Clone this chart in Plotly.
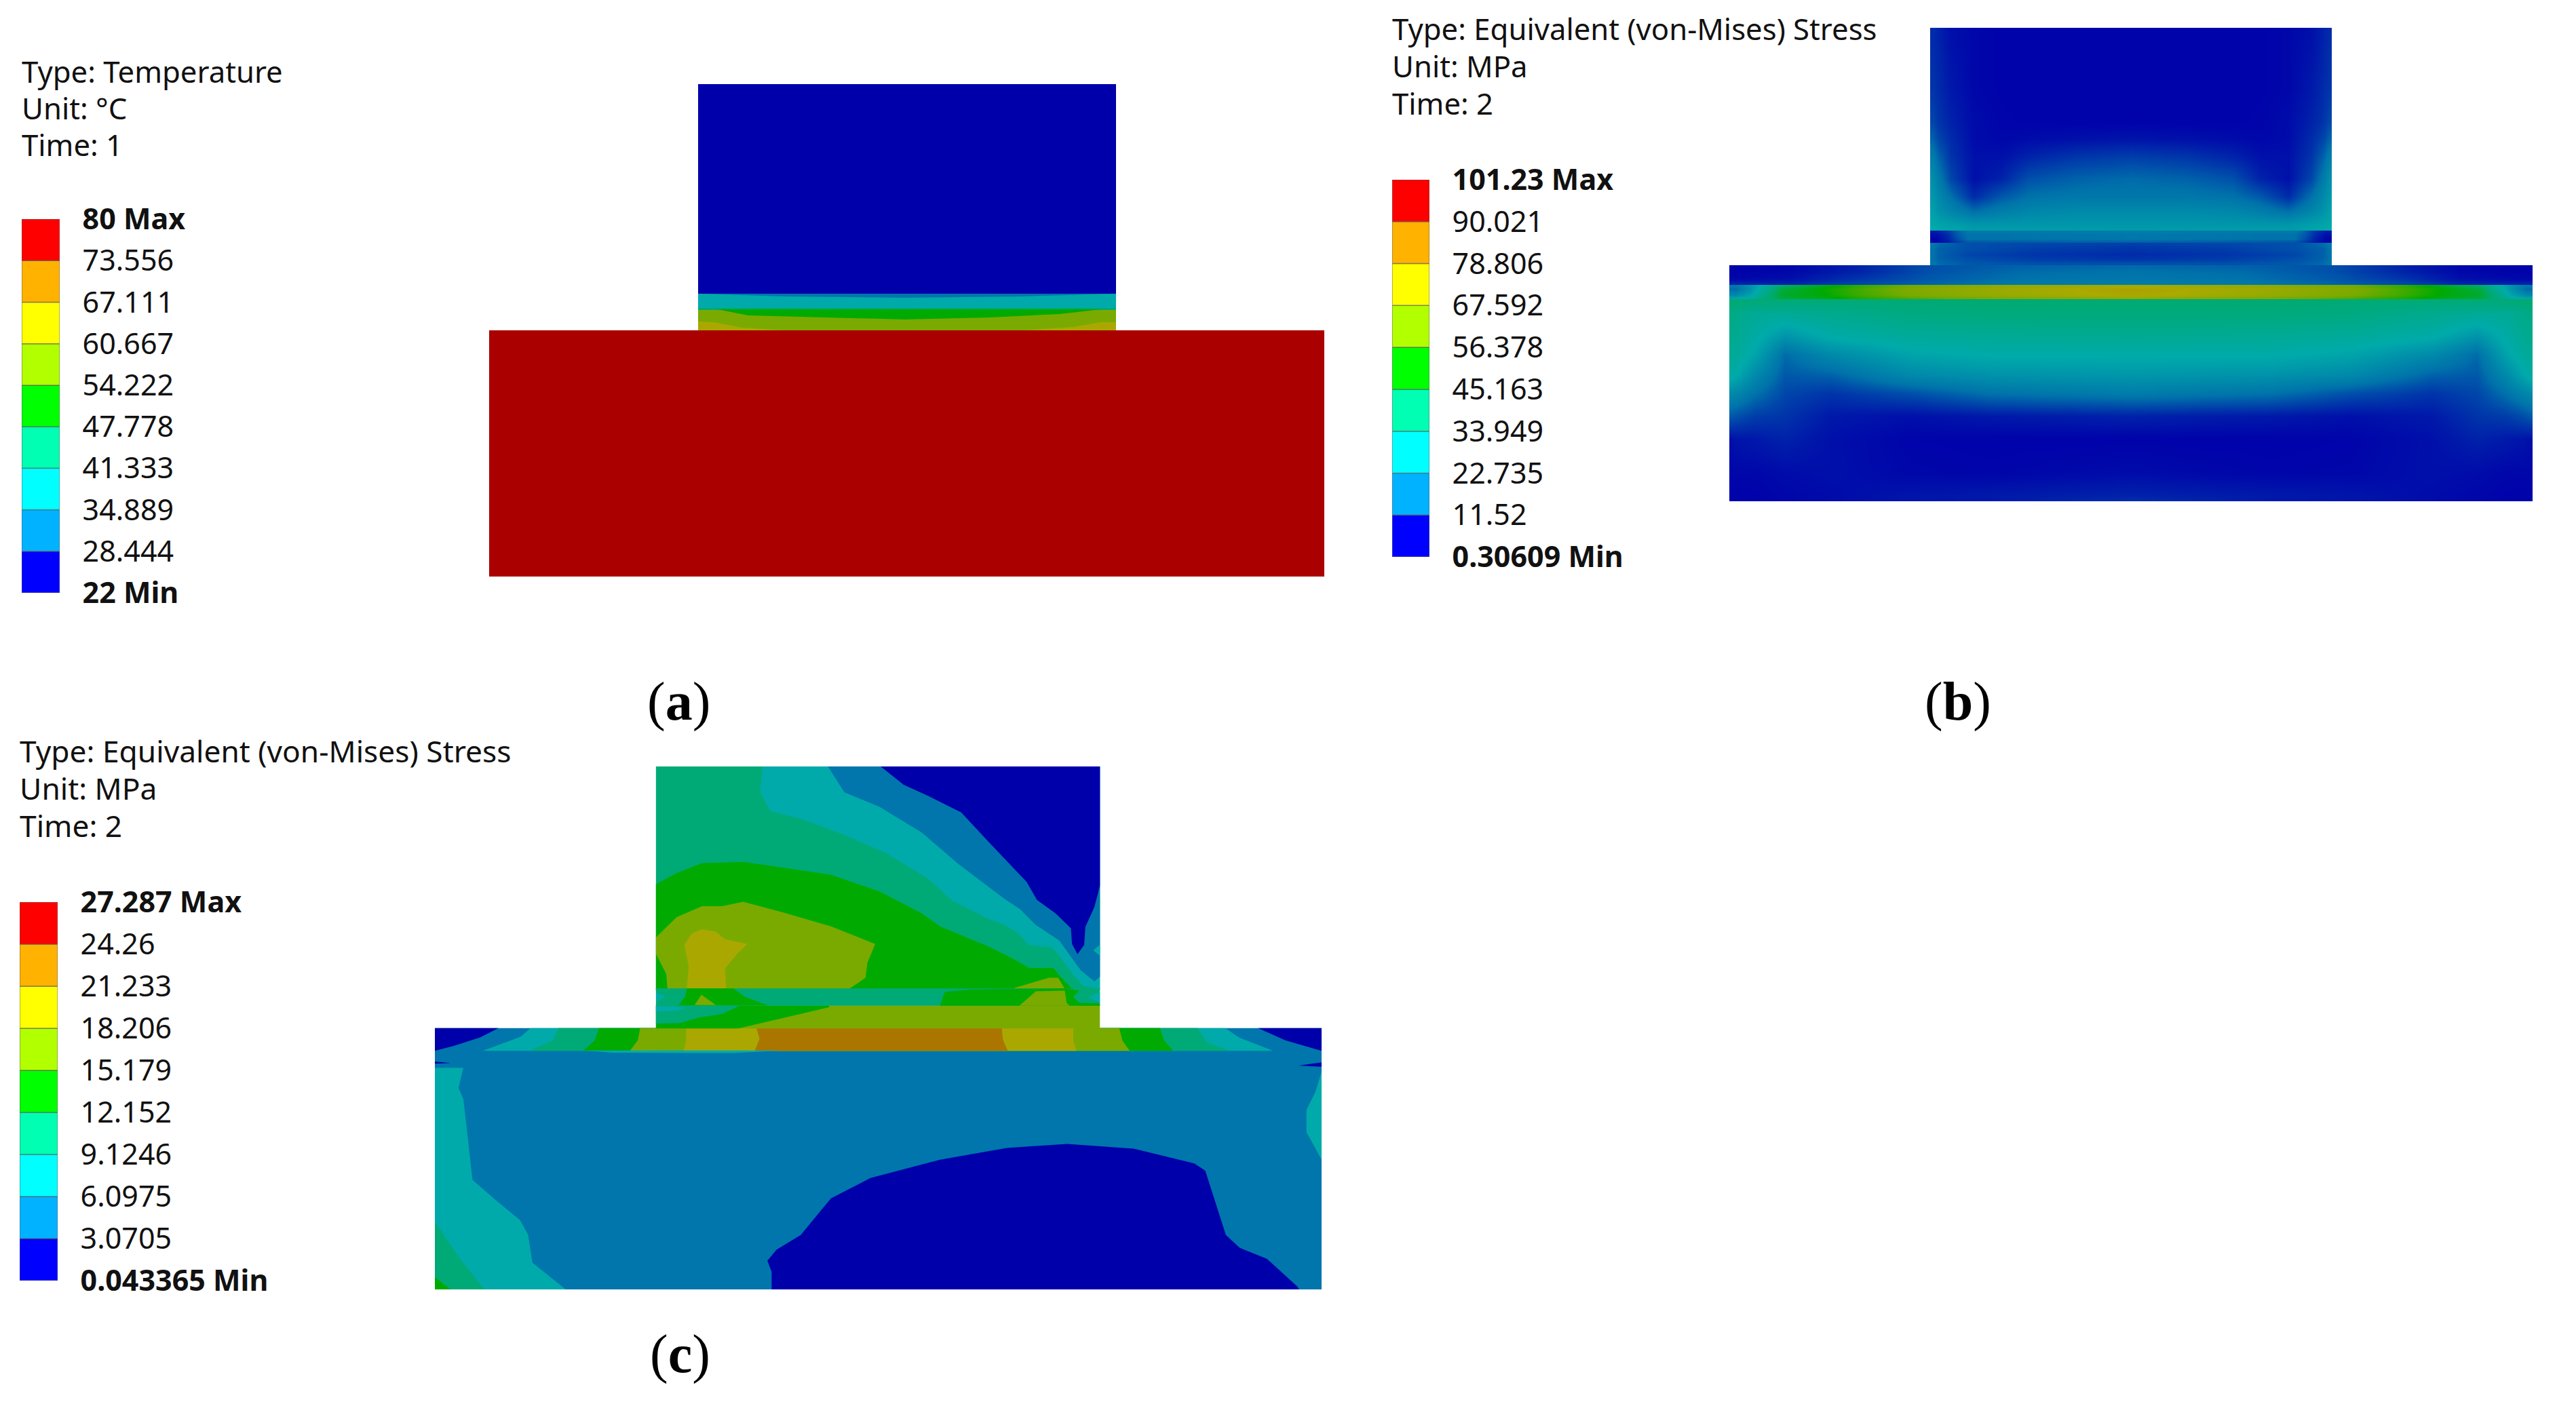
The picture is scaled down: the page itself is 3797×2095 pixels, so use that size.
import plotly.graph_objects as go

W = 3797
H = 2095

# contour colours of the models (dimmed legend colours)
C0 = "#0000aa"
C1 = "#0076ac"
C2 = "#00aaaa"
C3 = "#00aa76"
C4 = "#00aa00"
C5 = "#7aaa00"
C6 = "#aaa800"
C7 = "#aa7600"
C8 = "#aa0000"

LEGEND_COLOURS = ["#0000ff", "#00b2ff", "#00ffff", "#00ffb2", "#00ff00",
                  "#b2ff00", "#ffff00", "#ffb200", "#ff0000"]

# legend labels, bottom to top
LABELS_A = ["22 Min", "28.444", "34.889", "41.333", "47.778", "54.222",
            "60.667", "67.111", "73.556", "80 Max"]
LABELS_B = ["0.30609 Min", "11.52", "22.735", "33.949", "45.163", "56.378",
            "67.592", "78.806", "90.021", "101.23 Max"]
LABELS_C = ["0.043365 Min", "3.0705", "6.0975", "9.1246", "12.152", "15.179",
            "18.206", "21.233", "24.26", "27.287 Max"]

HEADER_A = ["Type: Temperature", "Unit: °C", "Time: 1"]
HEADER_B = ["Type: Equivalent (von-Mises) Stress", "Unit: MPa", "Time: 2"]
HEADER_C = ["Type: Equivalent (von-Mises) Stress", "Unit: MPa", "Time: 2"]

# ---- panel a, contour bands (model units)
A_BASE = [(721, 487), (1952, 487), (1952, 850), (721, 850)]
A_TOP = [(1029, 124), (1645, 124), (1645, 433), (1029, 433)]
A_INTER = [(1029, 433), (1645, 433), (1645, 487), (1029, 487)]
A_TEAL = [(1029, 433), (1645, 433), (1645, 457), (1029, 457)]
A_LENS = [(1029, 433), (1645, 433), (1511, 437), (1333, 439), (1154, 437)]
A_GREENTEAL = [(1029, 454), (1645, 454), (1645, 457), (1029, 457)]
A_GREEN = [(1057, 456), (1623, 456), (1562, 463), (1460, 468), (1333, 471), (1205, 468), (1103, 465)]
A_CORNER_L = [(1029, 474), (1052, 475), (1093, 483), (1154, 487), (1029, 487)]
A_CORNER_R = [(1645, 475), (1623, 475), (1583, 482), (1511, 487), (1645, 487)]

# ---- panel b, stress field in MPa (model units)
B_TOP_X = [2849, 2857, 2875, 2909, 2950, 2990, 3060, 3141, 3222, 3292, 3332, 3373, 3407, 3425, 3433]
B_TOP_Y = [44, 50, 130, 180, 205, 230, 263, 290, 310, 331, 337]
B_TOP_Z = [
    [5, 4, 2, 1, .6, .5, .5, .5, .5, .5, .6, 1, 2, 4, 5],
    [5, 4, 2, 1, .6, .5, .5, .5, .5, .5, .6, 1, 2, 4, 5],
    [6, 5, 3, 1, .6, .5, .5, .5, .5, .5, .6, 1, 3, 5, 6],
    [8, 6, 4, 1.5, .8, .6, .5, .5, .5, .6, .8, 1.5, 4, 6, 8],
    [11, 8, 5, 1.5, 1, 1.5, 2, 2.5, 2, 1.5, 1, 1.5, 5, 8, 11],
    [15, 11, 6, 2, 2, 4, 6, 7, 6, 4, 2, 2, 6, 11, 15],
    [19, 15, 8, 2, 4, 9, 11, 12, 11, 9, 4, 2, 8, 15, 19],
    [21, 18, 13, 5, 10, 13, 14, 14, 14, 13, 10, 5, 13, 18, 21],
    [23, 20, 17, 12, 15, 17, 18, 18, 18, 17, 15, 12, 17, 20, 23],
    [25, 24, 23, 21, 21, 21, 21, 21, 21, 21, 21, 21, 23, 24, 25],
    [26, 25, 24, 22, 22, 22, 22, 22, 22, 22, 22, 22, 24, 25, 26],
]

B_LAYER1_X = [2848, 2854, 2870, 2885, 2900, 3141, 3382, 3397, 3412, 3428, 3434]
B_LAYER1_Y = [342, 346, 352, 356]
B_LAYER1_Z = [
    [3, 3, 6, 11, 14, 15, 14, 11, 6, 3, 3],
    [2, 2, 5, 10, 13, 14, 13, 10, 5, 2, 2],
    [1, 1, 4, 9, 13, 14, 13, 9, 4, 1, 1],
    [1, 1, 3, 7, 10, 11, 10, 7, 3, 1, 1],
]

B_LAYER2_X = [2849, 2857, 2900, 3000, 3141, 3282, 3382, 3425, 3433]
B_LAYER2_Y = [361, 367, 375, 382, 388]
B_LAYER2_Z = [
    [14, 12, 9, 8, 7, 8, 9, 12, 14],
    [13, 11, 9, 7, 6, 7, 9, 11, 13],
    [13, 11, 8, 6, 5, 6, 8, 11, 13],
    [13, 11, 9, 7, 6, 7, 9, 11, 13],
    [14, 12, 10, 9, 9, 9, 10, 12, 14],
]

B_DARK_X = [2552, 2558, 2640, 2738, 2844, 2975, 3141, 3307, 3438, 3544, 3626, 3724, 3730]
B_DARK_Y = [394, 400, 411, 417]
B_DARK_Z = [
    [.5, .5, 1, 4, 9, 11, 12, 11, 9, 4, 1, .5, .5],
    [.5, .5, 1, 4, 9, 12, 13, 12, 9, 4, 1, .5, .5],
    [1, 1, 2, 6, 10, 13, 14, 13, 10, 6, 2, 1, 1],
    [4, 4, 4, 8, 11, 14, 15, 14, 11, 8, 4, 4, 4],
]

B_HOT_X = [2552, 2558, 2580, 2600, 2627, 2686, 2738, 2817, 2935, 3093, 3141,
           3189, 3347, 3465, 3544, 3596, 3655, 3682, 3702, 3724, 3730]
B_HOT_Y = [422, 426, 435, 439]
B_HOT_Z = [
    [14, 14, 20, 28, 40, 48, 56, 64, 70, 74, 75, 74, 70, 64, 56, 48, 40, 28, 20, 14, 14],
    [12, 12, 20, 30, 44, 51, 58, 66, 72, 77, 78, 77, 72, 66, 58, 51, 44, 30, 20, 12, 12],
    [18, 18, 24, 34, 46, 50, 57, 65, 71, 76, 77, 76, 71, 65, 57, 50, 46, 34, 24, 18, 18],
    [24, 24, 28, 36, 44, 48, 54, 60, 66, 70, 71, 70, 66, 60, 54, 48, 44, 36, 28, 24, 24],
]

B_MAIN_X = [2553, 2561, 2587, 2631, 2698, 2817, 2935, 3141, 3347, 3465, 3584, 3651, 3695, 3721, 3729]
B_MAIN_Y = [443, 447, 463, 497, 523, 553, 580, 613, 647, 697, 730, 736]
B_MAIN_Z = [
    [38, 38, 37, 37, 37, 37, 38, 38, 38, 37, 37, 37, 37, 38, 38],
    [38, 37, 36, 36, 36, 37, 38, 38, 38, 37, 36, 36, 36, 37, 38],
    [34, 33, 30, 30, 32, 35, 36, 36, 36, 35, 32, 30, 30, 33, 34],
    [32, 31, 27, 20, 26, 29, 30, 31, 30, 29, 26, 20, 27, 31, 32],
    [30, 29, 24, 12, 18, 24, 26, 26, 26, 24, 18, 12, 24, 29, 30],
    [27, 25, 18, 10, 11, 18, 20, 21, 20, 18, 11, 10, 18, 25, 27],
    [18, 17, 13, 8, 6, 9, 13, 15, 13, 9, 6, 8, 13, 17, 18],
    [10, 9, 7, 6, 3, 2, 3, 4, 3, 2, 3, 6, 7, 9, 10],
    [2, 2.5, 3, 4, 2, .7, .5, .5, .5, .7, 2, 4, 3, 2.5, 2],
    [1, 1, 1, 1.5, 2, 1, .8, 1.5, .8, 1, 2, 1.5, 1, 1, 1],
    [.5, .5, .6, 1, 1.5, 2.5, 3, 4, 3, 2.5, 1.5, 1, .6, .5, .5],
    [.5, .5, .6, 1, 1.5, 2.5, 3, 5, 3, 2.5, 1.5, 1, .6, .5, .5],
]

# ---- panel c, contour bands (model units)
C_TOP_BG = [(411, 55), (1144, 55), (1144, 664), (411, 664)]
C_TOP_TEAL = [(587, 55), (583, 125), (600, 177), (650, 197), (720, 240), (790, 290), (860, 360),
              (900, 420), (960, 470), (986, 486), (1008, 507), (1027, 541), (1064, 547),
              (1075, 566), (1094, 609), (1116, 652), (1144, 661), (1144, 55)]
C_TOP_BLUE = [(695, 55), (722, 125), (780, 165), (850, 235), (910, 320), (950, 370), (986, 415),
              (1012, 443), (1038, 486), (1077, 529), (1098, 578), (1112, 609), (1135, 640),
              (1144, 627), (1144, 55)]
C_TOP_DIAMOND = [(1133, 555), (1144, 540), (1144, 570)]
C_TOP_DARK = [(782, 55), (820, 105), (860, 135), (915, 180), (960, 260), (1000, 330), (1023, 369),
              (1040, 418), (1071, 455), (1096, 495), (1098, 538), (1107, 566), (1118, 541),
              (1120, 492), (1135, 437), (1144, 380), (1144, 55)]
C_TOP_GREEN = [(411, 375), (445, 345), (487, 318), (555, 315), (620, 330), (700, 350), (780, 395),
               (850, 455), (880, 490), (960, 545), (1000, 578), (1027, 603), (1067, 603),
               (1079, 627), (1101, 664), (411, 664)]
C_TOP_OLIVE = [(411, 520), (445, 465), (487, 435), (520, 435), (555, 423), (620, 452), (700, 490),
               (773, 538), (760, 590), (757, 630), (735, 655), (730, 660), (430, 660), (428, 620),
               (411, 565)]
C_TOP_BUMP = [(1000, 659), (1040, 640), (1060, 630), (1075, 630), (1086, 660)]
C_TOP_YELLOW = [(458, 540), (470, 510), (487, 498), (510, 505), (525, 525), (562, 538), (545, 565),
                (525, 605), (527, 660), (462, 660), (465, 600)]

C_L1_BG = [(411, 659), (1144, 659), (1144, 706), (411, 706)]
C_L1_GREEN_L = [(462, 659), (539, 659), (558, 682), (596, 705), (448, 705), (459, 682)]
C_L1_TRI = [(486, 676), (510, 704), (475, 704)]
C_L1_GREEN_R = [(888, 668), (930, 662), (1085, 659), (1110, 665), (1100, 682), (1110, 698),
                (1144, 700), (1144, 706), (880, 706)]
C_L1_OLIVE = [(1038, 667), (1086, 665), (1089, 698), (1094, 706), (1011, 706)]
C_L1_DIAMOND_L = [(412, 670), (427, 682), (412, 695)]
C_L1_DIAMOND_R = [(1125, 682), (1144, 670), (1144, 698)]

C_L2_BG = [(411, 705), (1144, 705), (1144, 768), (411, 768)]
C_L2_GREEN = [(411, 705), (697, 705), (697, 710), (633, 735), (547, 768), (411, 768)]
C_L2_GT = [(411, 705), (550, 705), (521, 728), (483, 738), (451, 753), (411, 755)]
C_L2_TEAL = [(411, 707), (462, 710), (446, 719), (411, 722)]

C_BASE = [(46, 767), (1510, 767), (1510, 1478), (46, 1478)]
C_BAND_TEAL = [(125, 829), (188, 790), (204, 767), (1351, 767), (1374, 793), (1430, 829)]
C_BAND_GT = [(202, 829), (241, 800), (250, 767), (1305, 767), (1321, 806), (1359, 829)]
C_BAND_GREEN = [(291, 829), (310, 800), (317, 767), (1243, 767), (1250, 800), (1265, 829)]
C_BAND_OLIVE = [(368, 829), (381, 800), (385, 767), (1176, 767), (1181, 800), (1193, 829)]
C_BAND_YELLOW = [(457, 829), (461, 800), (461, 767), (1100, 767), (1100, 800), (1105, 829)]
C_BAND_BROWN = [(574, 829), (582, 796), (577, 767), (982, 767), (984, 799), (992, 829)]
C_BAND_DARK_L = [(46, 767), (151, 767), (120, 793), (78, 815), (46, 829)]
C_BAND_DARK_R = [(1405, 767), (1510, 767), (1510, 829), (1450, 800)]
C_SLIVER = [(290, 828), (620, 828), (540, 835), (340, 834)]

C_LEFT_TEAL = [(46, 875), (93, 875), (85, 930), (93, 960), (100, 1060), (108, 1180), (150, 1240),
               (187, 1290), (200, 1330), (207, 1405), (262, 1478), (46, 1478)]
C_LEFT_GT = [(46, 1295), (65, 1340), (90, 1400), (128, 1478), (46, 1478)]
C_LEFT_GREEN = [(46, 1445), (72, 1478), (46, 1478)]
C_RIGHT_TEAL = [(1510, 885), (1500, 940), (1485, 990), (1485, 1050), (1510, 1125)]
C_BLOB = [(602, 1478), (602, 1430), (595, 1400), (610, 1370), (650, 1330), (700, 1230), (765, 1175),
          (880, 1125), (990, 1093), (1090, 1082), (1200, 1095), (1300, 1135), (1318, 1155),
          (1352, 1330), (1375, 1365), (1420, 1395), (1470, 1470), (1473, 1478)]
C_NOTCH_L = [(46, 858), (72, 862), (46, 864)]
C_NOTCH_R = [(1510, 860), (1472, 869), (1510, 872)]

FIELD_SCALE = [[0, C0], [.125, "#0073aa"], [.25, C2], [.375, "#00aa73"], [.5, C4],
               [.625, "#73aa00"], [.75, "#aaaa00"], [.875, "#aa7300"], [1, C8]]
FIELD_MIN = 0.30609
FIELD_MAX = 101.23

FONT = "Noto Sans"


def box(left, top, right, bottom):
    # page pixels to paper domains
    return [left / W, right / W], [1 - bottom / H, 1 - top / H]


def polygon(points, colour, axis):
    return go.Scatter(
        x=[p[0] for p in points], y=[p[1] for p in points],
        xaxis="x" + axis, yaxis="y" + axis,
        mode="lines", fill="toself", fillcolor=colour,
        line=dict(width=0, color=colour), hoverinfo="skip", showlegend=False)


def field(x, y, z):
    return go.Heatmap(
        x=x, y=y, z=z, xaxis="x2", yaxis="y2", zsmooth="best",
        colorscale=FIELD_SCALE, zmin=FIELD_MIN, zmax=FIELD_MAX,
        showscale=False, hoverinfo="skip")


def legend_bar(axis):
    return go.Bar(
        x=[0] * 9, y=[1] * 9, base=list(range(9)), width=1,
        xaxis="x" + axis, yaxis="y" + axis, hoverinfo="skip", showlegend=False,
        marker=dict(color=LEGEND_COLOURS, line=dict(color="rgba(90,90,90,0.6)", width=1.5)))


fig = go.Figure()

for pts, col in [(A_BASE, C8), (A_TOP, C0), (A_INTER, C5), (A_TEAL, C2), (A_LENS, C1),
                 (A_GREENTEAL, C3), (A_GREEN, C4), (A_CORNER_L, C6), (A_CORNER_R, C6)]:
    fig.add_trace(polygon(pts, col, ""))

fig.add_trace(field(B_MAIN_X, B_MAIN_Y, B_MAIN_Z))
fig.add_trace(field(B_HOT_X, B_HOT_Y, B_HOT_Z))
fig.add_trace(field(B_DARK_X, B_DARK_Y, B_DARK_Z))
fig.add_trace(field(B_LAYER2_X, B_LAYER2_Y, B_LAYER2_Z))
fig.add_trace(field(B_LAYER1_X, B_LAYER1_Y, B_LAYER1_Z))
fig.add_trace(field(B_TOP_X, B_TOP_Y, B_TOP_Z))

# painted back to front
for pts, col in [(C_BASE, C1), (C_BAND_TEAL, C2), (C_BAND_GT, C3), (C_BAND_GREEN, C4),
                 (C_BAND_OLIVE, C5), (C_BAND_YELLOW, C6), (C_BAND_BROWN, C7),
                 (C_BAND_DARK_L, C0), (C_BAND_DARK_R, C0), (C_SLIVER, C2),
                 (C_LEFT_TEAL, C2), (C_LEFT_GT, C3), (C_LEFT_GREEN, C4), (C_RIGHT_TEAL, C2),
                 (C_BLOB, C0), (C_NOTCH_L, C0), (C_NOTCH_R, C0),
                 (C_TOP_BG, C3), (C_TOP_TEAL, C2), (C_TOP_BLUE, C1), (C_TOP_DIAMOND, C2),
                 (C_TOP_DARK, C0), (C_TOP_GREEN, C4), (C_TOP_OLIVE, C5), (C_TOP_BUMP, C5),
                 (C_TOP_YELLOW, C6),
                 (C_L2_BG, C5), (C_L2_GREEN, C4), (C_L2_GT, C3), (C_L2_TEAL, C2),
                 (C_L1_BG, C3), (C_L1_GREEN_L, C4), (C_L1_TRI, C5), (C_L1_GREEN_R, C4),
                 (C_L1_OLIVE, C5), (C_L1_DIAMOND_L, C2), (C_L1_DIAMOND_R, C2)]:
    fig.add_trace(polygon(pts, col, "3"))

for axis in ["4", "5", "6"]:
    fig.add_trace(legend_bar(axis))

hidden = dict(visible=False, showgrid=False, zeroline=False, automargin=False)


def model_axes(n, pixel_box, xrange, yrange):
    dx, dy = box(*pixel_box)
    fig.layout["xaxis" + n] = dict(hidden, domain=dx, range=xrange, anchor="y" + n)
    fig.layout["yaxis" + n] = dict(hidden, domain=dy, range=yrange, anchor="x" + n)


def legend_axes(n, pixel_box, labels):
    dx, dy = box(*pixel_box)
    # Max and Min rows are set bold
    text = list(labels)
    for i in (0, len(text) - 1):
        text[i] = "<b>" + text[i] + "</b>"
    fig.layout["xaxis" + n] = dict(hidden, domain=dx, range=[-0.5, 0.5], anchor="y" + n)
    fig.layout["yaxis" + n] = dict(
        domain=dy, range=[0, 9], anchor="x" + n, side="right",
        tickvals=list(range(10)), ticktext=text, ticks="outside", ticklen=24,
        tickcolor="rgba(0,0,0,0)", showgrid=False, zeroline=False, showline=False,
        automargin=False, tickfont=dict(family=FONT, size=43, color="#111111"))


model_axes("", (721, 124, 1952, 850), [721, 1952], [850, 124])
model_axes("2", (2549, 41, 3733, 739), [2549, 3733], [739, 41])
model_axes("3", (641, 1130, 1948, 1901), [46, 1510], [1478, 55])

legend_axes("4", (32, 323, 88, 874), LABELS_A)
legend_axes("5", (2052, 265, 2107, 821), LABELS_B)
legend_axes("6", (29, 1330, 85, 1888), LABELS_C)

notes = []
for lines, x, ys, size in [(HEADER_A, 30, [105, 159, 213], 43.7),
                           (HEADER_B, 2050, [42, 97, 152], 43.7),
                           (HEADER_C, 27, [1107, 1162, 1217], 44.3)]:
    for line, y in zip(lines, ys):
        notes.append(dict(text=line, x=x / W, y=1 - y / H, xref="paper", yref="paper",
                          xanchor="left", yanchor="middle", showarrow=False,
                          font=dict(family=FONT, size=size, color="#111111")))

for label, x, y in [("(<b>a</b>)", 1001, 1035), ("(<b>b</b>)", 2886, 1035), ("(<b>c</b>)", 1002, 1996)]:
    notes.append(dict(text=label, x=x / W, y=1 - y / H, xref="paper", yref="paper",
                      xanchor="center", yanchor="middle", showarrow=False,
                      font=dict(family="Liberation Serif", size=80, color="#000000")))

fig.update_layout(width=W, height=H, margin=dict(l=0, r=0, t=0, b=0),
                  paper_bgcolor="white", plot_bgcolor="white",
                  showlegend=False, annotations=notes)

fig.write_html("out.html", post_script="document.body.style.margin='0';",
               config={"displayModeBar": False})
